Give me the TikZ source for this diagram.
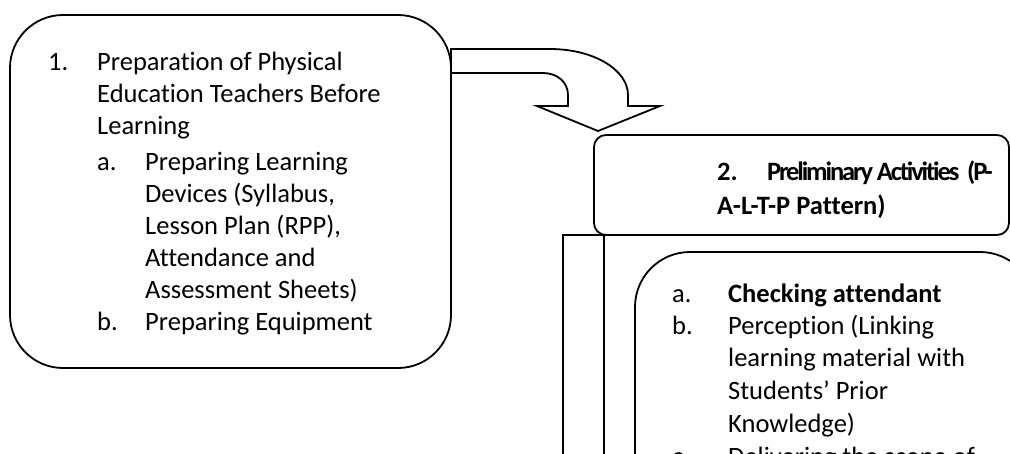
\documentclass[tikz,border=0pt]{standalone}
\usepackage{fontspec}
\setmainfont{Carlito}[Ligatures={NoCommon}]
\begin{document}
\begin{tikzpicture}[x=1pt,y=-1pt,
  boxline/.style={draw=black,line width=1.8pt,fill=white,inner sep=0pt},
  txt/.style={anchor=base west,inner sep=0pt,font=\fontsize{26.5}{30}\selectfont},
  btxt/.style={anchor=base west,inner sep=0pt,font=\fontsize{26.5}{30}\selectfont\bfseries}]
\useasboundingbox (0,0) rectangle (1010,453);
\fill[white] (0,0) rectangle (1010,453);
\clip (0,0) rectangle (1010,453);
% box 1
\node[boxline,rounded corners=53pt,minimum width=441pt,minimum height=353pt] (box1) at (230.5,191.5) {};
% curved block arrow
\draw[line width=1.8pt,line join=miter,fill=white]
  (451,49) -- (550,49) .. controls (594,49) and (628,70) .. (628,95) -- (628,106) -- (660,106)
  -- (598,131) -- (537,106) -- (568,106) -- (568,95)
  .. controls (568,82) and (557,73) .. (543,73) -- (451,73) -- cycle;
% tall rectangle
\node[boxline,minimum width=41pt,minimum height=240pt] (bar) at (583.5,355) {};
% box 2
\node[boxline,rounded corners=12pt,minimum width=415pt,minimum height=100pt] (box2) at (801.5,185) {};
% box 3
\node[boxline,rounded corners=55pt,minimum width=400pt,minimum height=268pt] (box3) at (835,386) {};
% box 1 text
\node[txt] (n1) at (48,70) {1.};
\node[txt] (t1a) at (97,70) {Preparation of Physical};
\node[txt] (t1b) at (97,102) {Education Teachers Before};
\node[txt] (t1c) at (97,134) {Learning};
\node[txt] (na) at (97,170) {a.};
\node[txt] (ta1) at (145,170) {Preparing Learning};
\node[txt] (ta2) at (145,202) {Devices (Syllabus,};
\node[txt] (ta3) at (145,234) {Lesson Plan (RPP),};
\node[txt] (ta4) at (145,266) {Attendance and};
\node[txt] (ta5) at (145,298) {Assessment Sheets)};
\node[txt] (nb) at (97,330) {b.};
\node[txt] (tb1) at (145,330) {Preparing Equipment};
% box 2 text
\node[btxt] (n2) at (717,180) {2.};
\node[btxt,font=\fontsize{26.5}{30}\selectfont\bfseries\addfontfeature{LetterSpace=-8}] (t2a) at (767,180) {Preliminary Activities\ \ (P-};
\node[btxt] (t2b) at (717,214) {A-L-T-P Pattern)};
% box 3 text
\node[txt] (n3a) at (672,302) {a.};
\node[btxt] (t3a) at (728,302) {Checking attendant};
\node[txt] (n3b) at (672,334) {b.};
\node[txt] (t3b1) at (728,334) {Perception (Linking};
\node[txt] (t3b2) at (728,366) {learning material with};
\node[txt] (t3b3) at (728,399) {Students’ Prior};
\node[txt] (t3b4) at (728,432) {Knowledge)};
\node[txt] (n3c) at (672,465) {c.};
\node[txt] (t3c) at (728,465) {Delivering the scope of};
\end{tikzpicture}
\end{document}
